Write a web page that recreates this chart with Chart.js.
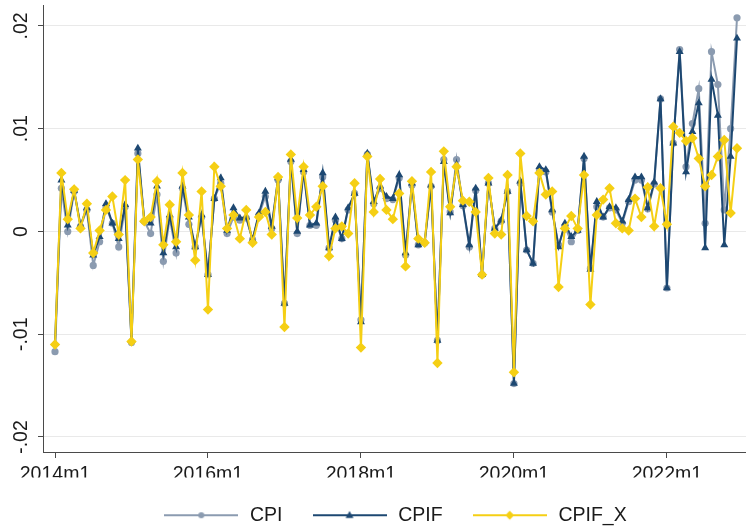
<!DOCTYPE html>
<html><head><meta charset="utf-8">
<script src="https://cdn.jsdelivr.net/npm/chart.js@4.4.1/dist/chart.umd.min.js"></script>
<style>html,body{margin:0;padding:0;background:#fff}canvas{display:block}</style>
</head><body>
<canvas id="c" width="746" height="528"></canvas>
<script>
// ---- data ----
const years = [2014,2015,2016,2017,2018,2019,2020,2021,2022];
const categories = [];
years.forEach(y => { for (let m = 1; m <= 12; m++) categories.push(y + 'm' + m); });

const CPI = [-0.0117,0.0042,0.0000,0.0039,0.0005,0.0021,-0.0033,-0.0010,0.0024,0.0008,-0.0015,0.0024,
-0.0108,0.0076,0.0010,-0.0002,0.0036,-0.0029,0.0013,-0.0021,0.0042,0.0007,-0.0015,0.0014,
-0.0042,0.0032,0.0047,-0.0002,0.0014,0.0011,0.0013,-0.0008,0.0016,0.0034,0.0003,0.0050,
-0.0070,0.0068,-0.0002,0.0058,0.0006,0.0006,0.0053,-0.0016,0.0011,-0.0007,0.0021,0.0037,
-0.0086,0.0075,0.0027,0.0042,0.0032,0.0031,0.0052,-0.0023,0.0045,-0.0013,-0.0011,0.0044,
-0.0106,0.0070,0.0019,0.0070,0.0025,-0.0015,0.0040,-0.0042,0.0047,0.0003,0.0010,0.0039,
-0.0148,0.0047,-0.0018,-0.0031,0.0060,0.0058,0.0019,-0.0013,0.0005,-0.0010,0.0001,0.0071,
-0.0036,0.0024,0.0014,0.0023,0.0021,0.0008,0.0029,0.0050,0.0050,0.0022,0.0046,0.0129,
-0.0055,0.0086,0.0177,0.0063,0.0105,0.0139,0.0008,0.0175,0.0143,0.0021,0.0100,0.0208];

const CPIF = [-0.0109,0.0050,0.0006,0.0040,0.0006,0.0023,-0.0023,-0.0005,0.0027,0.0008,-0.0007,0.0026,
-0.0106,0.0081,0.0011,0.0008,0.0044,-0.0021,0.0016,-0.0015,0.0044,0.0014,-0.0015,0.0016,
-0.0042,0.0032,0.0052,0.0001,0.0023,0.0013,0.0014,-0.0008,0.0018,0.0039,0.0005,0.0052,
-0.0070,0.0070,0.0000,0.0060,0.0006,0.0008,0.0057,-0.0016,0.0014,-0.0007,0.0023,0.0037,
-0.0088,0.0076,0.0029,0.0044,0.0034,0.0032,0.0055,-0.0021,0.0047,-0.0013,-0.0010,0.0045,
-0.0106,0.0068,0.0018,0.0065,0.0026,-0.0013,0.0042,-0.0042,0.0047,0.0003,0.0011,0.0039,
-0.0148,0.0049,-0.0018,-0.0031,0.0063,0.0060,0.0021,-0.0015,0.0008,-0.0005,0.0001,0.0073,
-0.0037,0.0029,0.0014,0.0024,0.0023,0.0010,0.0031,0.0053,0.0053,0.0023,0.0048,0.0129,
-0.0055,0.0086,0.0175,0.0058,0.0097,0.0125,-0.0016,0.0148,0.0113,-0.0013,0.0073,0.0188];

const CPIF_X = [-0.0110,0.0057,0.0012,0.0041,0.0003,0.0027,-0.0021,0.0001,0.0021,0.0034,-0.0003,0.0050,
-0.0107,0.0070,0.0010,0.0014,0.0049,-0.0013,0.0026,-0.0010,0.0057,0.0016,-0.0028,0.0039,
-0.0076,0.0063,0.0044,0.0003,0.0016,-0.0007,0.0021,-0.0011,0.0014,0.0019,-0.0003,0.0053,
-0.0093,0.0075,0.0013,0.0063,0.0016,0.0024,0.0044,-0.0024,0.0003,0.0005,-0.0002,0.0047,
-0.0113,0.0073,0.0019,0.0051,0.0021,0.0012,0.0037,-0.0034,0.0049,-0.0007,-0.0011,0.0058,
-0.0128,0.0078,0.0024,0.0063,0.0030,0.0029,0.0019,-0.0042,0.0052,-0.0002,-0.0003,0.0055,
-0.0137,0.0076,0.0015,0.0010,0.0057,0.0036,0.0039,-0.0054,0.0003,0.0015,0.0003,0.0055,
-0.0071,0.0016,0.0031,0.0042,0.0008,0.0003,0.0001,0.0032,0.0014,0.0043,0.0005,0.0042,
0.0007,0.0102,0.0096,0.0088,0.0091,0.0071,0.0044,0.0055,0.0073,0.0089,0.0018,0.0081];

const seriesNames = ['CPI', 'CPIF', 'CPIF_X'];
const xTickPos = [0, 24, 48, 72, 96];
const xTickLabels = ['2014m1', '2016m1', '2018m1', '2020m1', '2022m1'];
const yTickValues = [-0.02, -0.01, 0, 0.01, 0.02];
const yTickLabels = ['-.02', '-.01', '0', '.01', '.02'];

// ---- styles ----
const FONT = '"Liberation Sans", Arial, Helvetica, sans-serif';
const FS = 19.5;
const TXT = '#1a1a1a';
const AXC = '#4a4a4a';
const styles = [
  {color: '#8b9bb0', point: 'circle', r: 3.6},
  {color: '#1d4872', point: 'triangle', r: 4.6},
  {color: '#f5cf14', point: 'rectRot', r: 5.2}
];

function legendImage(st) {
  const c = document.createElement('canvas');
  c.width = 74; c.height = 14;
  const g = c.getContext('2d');
  g.strokeStyle = st.color; g.lineWidth = 2;
  g.beginPath(); g.moveTo(0, 7); g.lineTo(74, 7); g.stroke();
  g.fillStyle = st.color;
  g.beginPath();
  const cx = 37, cy = 7, r = st.r * 0.85;
  if (st.point === 'circle') { g.arc(cx, cy, r, 0, Math.PI * 2); }
  else if (st.point === 'triangle') { g.moveTo(cx, cy - r * 1.1); g.lineTo(cx + r, cy + r * 0.7); g.lineTo(cx - r, cy + r * 0.7); g.closePath(); }
  else { g.moveTo(cx, cy - r); g.lineTo(cx + r, cy); g.lineTo(cx, cy + r); g.lineTo(cx - r, cy); g.closePath(); }
  g.fill();
  return c;
}

const seriesData = [CPI, CPIF, CPIF_X];
const datasets = seriesData.map((arr, i) => ({
  label: seriesNames[i],
  data: arr.map((v, k) => ({x: k, y: v})),
  borderColor: styles[i].color,
  backgroundColor: styles[i].color,
  pointBackgroundColor: styles[i].color,
  pointBorderColor: styles[i].color,
  pointBorderWidth: 0,
  pointStyle: styles[i].point,
  pointRadius: styles[i].r,
  borderWidth: 2,
  tension: 0,
  clip: false,
  order: 3 - i
}));

new Chart(document.getElementById('c'), {
  type: 'line',
  data: {datasets},
  options: {
    responsive: false,
    animation: false,
    devicePixelRatio: 1,
    layout: {autoPadding: false, padding: {left: 0, right: 0, top: 5, bottom: -7}},
    plugins: {
      tooltip: {enabled: false},
      legend: {
        position: 'bottom',
        fullSize: false,
        labels: {
          usePointStyle: true,
          pointStyleWidth: 78,
          padding: 28,
          color: TXT,
          font: {family: FONT, size: FS},
          generateLabels: () => seriesNames.map((n, i) => ({
            text: n, datasetIndex: i, pointStyle: legendImage(styles[i]),
            fillStyle: styles[i].color, strokeStyle: styles[i].color, lineWidth: 0, hidden: false, fontColor: TXT
          }))
        }
      }
    },
    scales: {
      x: {
        type: 'linear', min: -1.883, max: 108.41,
        afterBuildTicks: s => { s.ticks = xTickPos.map(v => ({value: v})); },
        ticks: {callback: (v, i) => xTickLabels[i], color: TXT, font: {family: FONT, size: FS}, padding: 5, maxRotation: 0, autoSkip: false},
        grid: {drawOnChartArea: false, drawTicks: true, tickLength: 6, tickColor: AXC, tickWidth: 1},
        border: {display: true, color: AXC, width: 1},
        afterFit: s => { s.height = 25.5; s.paddingRight = 0; s.paddingLeft = 0; }
      },
      y: {
        min: -0.02146, max: 0.02204,
        afterBuildTicks: s => { s.ticks = yTickValues.map(v => ({value: v})); },
        ticks: {callback: (v, i) => yTickLabels[i], color: TXT, font: {family: FONT, size: FS}, minRotation: 90, maxRotation: 90, crossAlign: 'center', padding: 0},
        grid: {color: '#e9e9e9', lineWidth: 1, drawTicks: true, tickLength: 5, tickColor: AXC},
        border: {display: true, color: AXC, width: 1},
        afterFit: s => { s.width = 43; s.paddingTop = 0; s.paddingBottom = 0; }
      }
    }
  }
});
</script>
</body></html>
